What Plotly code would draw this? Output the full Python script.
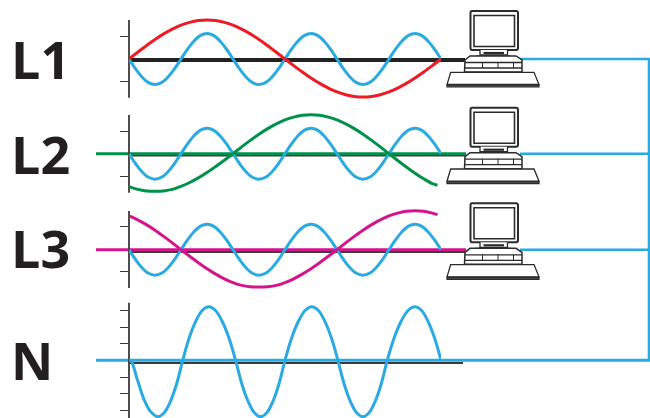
import plotly.graph_objects as go

W, H = 650, 418
BLUE = "#29abe2"; RED = "#ed1c24"; GREEN = "#00914a"; MAGENTA = "#d4148c"; DARK = "#3a3a3a"

harmonic_angles = [i * 7.5 for i in range(49)]
third_harmonic = [0,-9.8,-18,-23.6,-25.5,-23.6,-18,-9.8,0,9.8,18,23.6,25.5,23.6,18,9.8,
                  0,-9.8,-18,-23.6,-25.5,-23.6,-18,-9.8,0,9.8,18,23.6,25.5,23.6,18,9.8,
                  0,-9.8,-18,-23.6,-25.5,-23.6,-18,-9.8,0,9.8,18,23.6,25.5,23.6,18,9.8,0]

l1_angles = [i * 10 for i in range(37)]
l1_current = [0,6.8,13.3,19.5,25.1,29.9,33.8,36.6,38.4,39,38.4,36.6,33.8,29.9,25.1,19.5,13.3,6.8,
              0,-6.6,-13,-19,-24.4,-29.1,-32.9,-35.7,-37.4,-38,-37.4,-35.7,-32.9,-29.1,-24.4,-19,-13,-6.6,0]

phase_angles = [i * 10 for i in range(36)] + [356]
l2_current = [-33,-35.7,-37.2,-37.6,-37.2,-35.7,-32.6,-28.8,-24.2,-18.8,-12.8,-6.5,
              0,6.8,13.3,19.5,25.1,29.9,33.8,36.6,38.4,39,38.4,36.6,33.8,29.9,25.1,19.5,13.3,6.8,
              0,-6.8,-13.3,-19.5,-25.1,-29.9,-31.5]
l3_current = [33.8,29.9,25.1,19.5,13.3,6.8,0,-6.6,-13,-19,-24.4,-29.1,-32.9,-35.7,-37,-37.4,-37,-35.7,
              -32.9,-29.1,-24.4,-19,-13,-6.6,0,6.8,13.3,19.5,25.1,29.9,33.8,36.6,38.4,39,38.4,36.6,35]

n_angles = [0,2,9.9,17.75,25.6,33.5,40.6,47.75,54.9,62,69.5,77,84.5,92,99.75,107.5,115.25,123,
            130.25,137.5,144.75,152,159,166,173,180,187.75,195.5,203.25,211,218.5,226,233.5,241,
            248.25,255.5,262.75,270,277,284,291,298,306,314,322,330,337.5,345,352.5,360]
n_current = [0,0,-20,-40,-52,-56.5,-52.5,-41.2,-23.7,0,22.5,39,49.8,53.5,49.8,39,22.5,0,
             -23.7,-41.2,-52.5,-56.5,-52.5,-41.2,-23.7,0,22.5,39,49.8,53.5,49.8,39,22.5,0,
             -23.7,-41.2,-52.5,-56.5,-52.5,-41.2,-23.7,0,22.5,39,49.8,53.5,49.8,39,22.5,0]

labels = ["L1", "L2", "L3", "N"]
label_y = [58.5, 153.5, 247.5, 359.5]
baseline_y = [60, 155.7, 252, 363]
wire_y = [59, 153.7, 249.7, 360.3]
icon_shift = [0, 96.7, 192.3]

panels = [
    dict(top=20, bottom=97.7, zero=59, ticks=[36, 81]),
    dict(top=115, bottom=192.7, zero=153.7, ticks=[131, 176]),
    dict(top=211, bottom=288, zero=249.7, ticks=[226.7, 271.7]),
    dict(top=302.7, bottom=418, zero=360.3, ticks=[310.3, 327, 343.7, 377, 393.7, 410.3]),
]
PAD = 6

fig = go.Figure()


def canvas_line(xs, ys, color, width):
    fig.add_trace(go.Scatter(x=xs, y=ys, mode="lines", line=dict(color=color, width=width),
                             hoverinfo="skip", showlegend=False, xaxis="x", yaxis="y"))


canvas_line([129, 465], [baseline_y[0]] * 2, "#222222", 4)
canvas_line([129, 465], [baseline_y[1]] * 2, DARK, 1.8)
canvas_line([129, 465], [baseline_y[2]] * 2, DARK, 1.8)
canvas_line([129, 463], [baseline_y[3]] * 2, DARK, 1.8)
canvas_line([96, 466], [wire_y[1]] * 2, GREEN, 3)
canvas_line([96, 466], [wire_y[2]] * 2, MAGENTA, 3)
canvas_line([96, 650], [wire_y[3]] * 2, BLUE, 3)
canvas_line([520, 649, 649], [wire_y[0], wire_y[0], wire_y[3]], BLUE, 2.6)
canvas_line([520, 649], [wire_y[1]] * 2, BLUE, 2.6)
canvas_line([520, 649], [wire_y[2]] * 2, BLUE, 2.6)
for p in panels:
    canvas_line([129, 129], [p["top"], p["bottom"]], DARK, 1.8)

series = [
    [(harmonic_angles, third_harmonic, BLUE), (l1_angles, l1_current, RED)],
    [(harmonic_angles, third_harmonic, BLUE), (phase_angles, l2_current, GREEN)],
    [(harmonic_angles, third_harmonic, BLUE), (phase_angles, l3_current, MAGENTA)],
    [(n_angles, n_current, BLUE)],
]

layout_axes = {}
for i, (p, group) in enumerate(zip(panels, series)):
    n = i + 2
    xname, yname = f"x{n}", f"y{n}"
    for xs, ys, color in group:
        fig.add_trace(go.Scatter(x=xs, y=ys, mode="lines",
                                 line=dict(color=color, width=3, shape="spline", smoothing=1, simplify=False),
                                 cliponaxis=False, hoverinfo="skip", showlegend=False,
                                 xaxis=xname, yaxis=yname))
    top, bottom = p["top"] - PAD, min(p["bottom"] + PAD, H)
    layout_axes[f"xaxis{n}"] = dict(domain=[129 / W, 441 / W], range=[0, 360], visible=False, anchor=yname)
    layout_axes[f"yaxis{n}"] = dict(
        domain=[1 - bottom / H, 1 - top / H],
        range=[p["zero"] - bottom, p["zero"] - top],
        anchor=xname, showline=False, showgrid=False, zeroline=False,
        ticks="outside", ticklen=8, tickwidth=1.4, tickcolor=DARK,
        tickvals=[p["zero"] - t for t in p["ticks"]], showticklabels=False,
    )

ICON = [
    ("M472,11 L516,11 Q518,11 518,13 L518,48 Q518,50 516,50 L472,50 Q470.5,50 470.5,48 L470.5,13 Q470.5,11 472,11 Z", 2.0, "white"),
    ("M474,15.5 L514.5,15.5 L514.5,46.5 L474,46.5 Z", 1.6, "white"),
    ("M480,50 L480,55 L507.5,55 L507.5,50", 1.3, "white"),
    ("M483.5,53 L504,53", 2.2, "white"),
    ("M476,58.5 L510,58.5 L510,56 L476,56 Z", 1.2, "#555555"),
    ("M465,60 L470,56 L516,56 L522,60 L522,72 L464.5,72 Z", 1.5, "white"),
    ("M465,62.5 L522,62.5", 1.3, None),
    ("M465,68 L522,68", 1.3, None),
    ("M482.5,62 L482.5,68 M498,62 L498,68 M513.5,62 L513.5,68", 1.0, None),
    ("M450.7,72.3 L534,72.3 L539,84.5 L447,84.5 Z", 1.3, "white"),
    ("M447,85 L539,85 L539,87 L447,87 Z", 1.2, "#555555"),
]
shapes = []
for shift in icon_shift:
    for path, lw, fill in ICON:
        parts = []
        for tok in path.split(" "):
            cmd = tok[0] if tok[0].isalpha() else ""
            body = tok[1:] if cmd else tok
            if "," in body:
                a, b = body.split(",")
                parts.append(f"{cmd}{a},{float(b) + shift:.2f}")
            else:
                parts.append(tok)
        shapes.append(dict(type="path", xref="x", yref="y", layer="above", path=" ".join(parts),
                           line=dict(color="#2b2b2b", width=lw), fillcolor=fill or "rgba(0,0,0,0)"))

annotations = [
    dict(text=f"<b>{t}</b>", xref="x", yref="y", x=9, y=y, xanchor="left", yanchor="middle",
         showarrow=False, font=dict(family="Open Sans", size=52, color="#231f20"))
    for t, y in zip(labels, label_y)
]

fig.update_layout(
    width=W, height=H, margin=dict(l=0, r=0, t=0, b=0), paper_bgcolor="white",
    plot_bgcolor="rgba(0,0,0,0)",
    xaxis=dict(domain=[0, 1], range=[0, W], visible=False),
    yaxis=dict(domain=[0, 1], range=[H, 0], visible=False),
    shapes=shapes, annotations=annotations, showlegend=False, **layout_axes,
)
fig.write_html("out.html", config={"displayModeBar": False},
               post_script="document.body.style.margin='0';document.documentElement.style.overflow='hidden';")
